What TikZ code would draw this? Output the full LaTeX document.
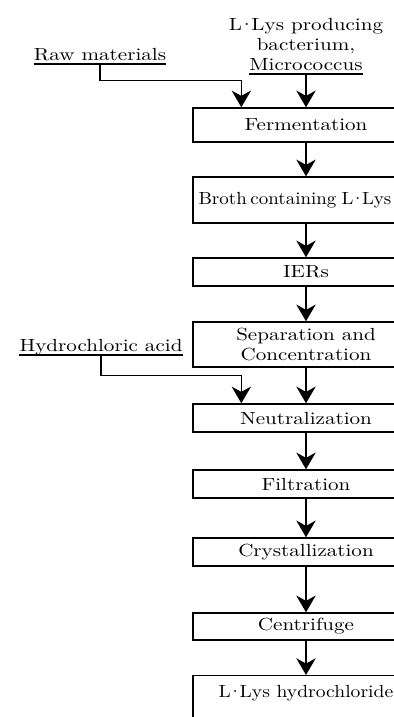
\documentclass[tikz,border=0pt]{standalone}
\usepackage{fontspec}
\setmainfont{lmroman10-regular}[Extension=.otf, FakeStretch=1.2]
\usetikzlibrary{calc, arrows.meta}
\newcommand{\cdotL}{L\kern-2pt·\kern-2pt L}
\newcommand{\narrow}[2][0.93]{\scalebox{#1}[1]{#2}}

\begin{document}
\begin{tikzpicture}[x=0.02cm, y=-0.02cm, font=\fontsize{10}{11.3}\selectfont,
  stage/.style={draw, line width=0.8pt, minimum width=4.52cm, align=center, inner sep=2pt},
  source/.style={inner sep=0pt, text depth=2pt},
  rule/.style={line width=1.2pt},
  flow/.style={line width=0.9pt, -{Stealth[length=9.5pt, width=11pt, inset=3pt]}}]
  \useasboundingbox (0,0) rectangle (394,717);
  % inputs
  \node[inner sep=0pt, align=center] (bact) at (306,36.5) {\cdotL ys producing\\bacterium,};
  \node[source, anchor=base] (micro) at (306,70) {Micrococcus};
  \node[source, anchor=base] (raw) at (100,60) {Raw materials};
  \node[source, anchor=base] (hcl) at (101,351) {Hydrochloric acid};
  \draw[rule] (micro.south west) -- (micro.south east);
  \draw[rule] (raw.south west) -- (raw.south east);
  \draw[rule] (hcl.south west) -- (hcl.south east);
  % process steps
  \node[stage, minimum height=0.68cm] (ferm) at (306,125) {Fermentation};
  \node[stage, minimum height=0.92cm, text width=4.3cm, align=left] (broth) at (306,200) {\narrow[0.9]{Broth\kern-1pt\ containing \cdotL ys}};
  \node[stage, minimum height=0.56cm] (ier) at (306,272) {IERs};
  \node[stage, minimum height=0.9cm] (sep) at (306,344.5) {Separation and\\Concentration};
  \node[stage, minimum height=0.56cm] (neut) at (306,418) {Neutralization};
  \node[stage, minimum height=0.56cm] (filt) at (306,484) {Filtration};
  \node[stage, minimum height=0.56cm] (cryst) at (306,552) {Crystallization};
  \node[stage, minimum height=0.54cm] (cent) at (306,626.5) {Centrifuge};
  \node[stage, anchor=north, text height=10.5pt, text depth=1cm] (prod) at (306,675) {\narrow{\cdotL ys hydrochloride}};
  \coordinate (rawin) at ($(ferm.north west)+(49,0)$);
  \coordinate (hclin) at ($(neut.north west)+(49,0)$);
  % arrows
  \foreach \a/\b in {micro/ferm, ferm/broth, broth/ier, ier/sep, sep/neut, neut/filt, filt/cryst, cryst/cent, cent/prod}
    \draw[flow] (\a.south) -- (\b.north);
  \draw[flow] (raw.south) |- ($(rawin)+(0,-27)$) -- (rawin);
  \draw[flow] (hcl.south) |- ($(hclin)+(0,-28)$) -- (hclin);
\end{tikzpicture}
\end{document}
